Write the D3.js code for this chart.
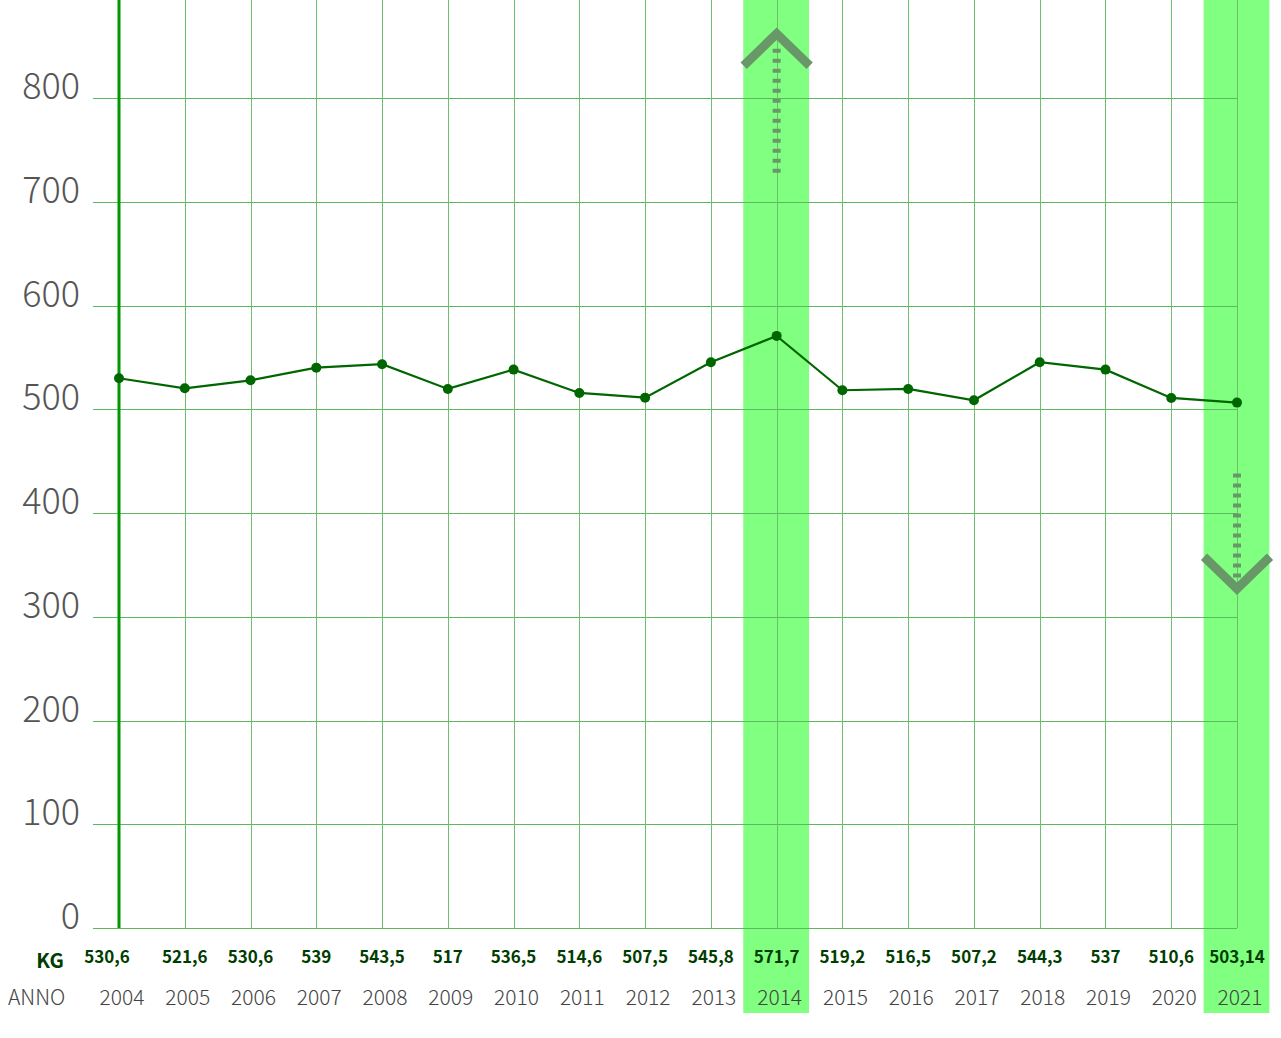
<!DOCTYPE html>
<html><head><meta charset="utf-8">
<script src="https://cdn.jsdelivr.net/npm/d3@7"></script>
<style>
html,body{margin:0;padding:0;background:#fff;}
svg{display:block;font-family:"Noto Sans CJK JP","Source Sans Pro","Open Sans",sans-serif;}
.light{font-family:"Noto Sans CJK JP Light","Noto Sans CJK JP DemiLight","Noto Sans CJK JP","Open Sans",sans-serif;}
</style></head>
<body><svg id="c" width="1281" height="1038"></svg>
<script>
const years = [2004,2005,2006,2007,2008,2009,2010,2011,2012,2013,2014,2015,2016,2017,2018,2019,2020,2021];
// values as drawn by the line
const plotted = [529.9,520.2,527.9,540.1,543.4,519.6,538.2,515.7,511.2,545.3,570.7,518.3,519.6,508.7,545.3,538.2,510.9,506.4];
// values as printed in the KG row
const valueLabels = ["530,6","521,6","530,6","539","543,5","517","536,5","514,6","507,5","545,8","571,7","519,2","516,5","507,2","544,3","537","510,6","503,14"];
const yTicks = [0,100,200,300,400,500,600,700,800];
const highlightYears = [2014,2021];
// arrow annotations
const arrowYears = [2014, 2021];
const arrowDotFrom = [728, 438];
const arrowDotTo = [848, 335];
const arrowApex = [862, 327];
const arrowDir = ["up","down"];

const svg = d3.select("#c");
const x = d3.scalePoint().domain(years).range([119,1237]);
const y = d3.scaleLinear().domain([0,800]).range([928,98]);
const step = x.step();
const yTop = y.invert(0);

// highlight bands
svg.selectAll("rect.band").data(highlightYears).join("rect")
  .attr("x", d => x(d) - step/2 - 0.5).attr("y", 0)
  .attr("width", step).attr("height", 1013)
  .attr("fill", "#80ff80");

// horizontal gridlines
svg.selectAll("line.h").data(yTicks).join("line")
  .attr("x1", 93).attr("x2", x(2021))
  .attr("y1", d => Math.round(y(d)) + 0.5).attr("y2", d => Math.round(y(d)) + 0.5)
  .attr("stroke", "#5cb85c").attr("stroke-width", 1);

// vertical gridlines
svg.selectAll("line.v").data(years.slice(1)).join("line")
  .attr("x1", d => Math.round(x(d)) + 0.5).attr("x2", d => Math.round(x(d)) + 0.5)
  .attr("y1", y(yTop)).attr("y2", y(0))
  .attr("stroke", "#6cbf6c").attr("stroke-width", 1);

// axis line
svg.append("line").attr("x1", x(2004)).attr("x2", x(2004))
  .attr("y1", y(yTop)).attr("y2", y(0))
  .attr("stroke", "#009900").attr("stroke-width", 3);

// y tick labels
svg.selectAll("text.yt").data(yTicks).join("text")
  .attr("class", "light")
  .attr("x", 80).attr("y", d => y(d) + 1)
  .attr("text-anchor", "end").attr("font-size", 36).attr("font-weight", 300)
  .attr("fill", "#555").text(d => d);

// arrows
const arrowColor = "#689868";
arrowYears.forEach((yr, i) => {
  const cx = x(yr);
  svg.append("line").attr("x1", cx).attr("x2", cx)
    .attr("y1", y(arrowDotFrom[i])).attr("y2", y(arrowDotTo[i]))
    .attr("stroke", arrowColor).attr("stroke-width", 8)
    .attr("stroke-dasharray", "4,6");
  const ay = y(arrowApex[i]);
  const dy = arrowDir[i] === "up" ? 32 : -32;
  svg.append("path")
    .attr("d", `M${cx - 33},${ay + dy}L${cx},${ay}L${cx + 33},${ay + dy}`)
    .attr("fill", "none").attr("stroke", arrowColor).attr("stroke-width", 9);
});

// line
svg.append("path").datum(plotted.map((v, i) => [years[i], v]))
  .attr("d", d3.line().x(d => x(d[0])).y(d => y(d[1])))
  .attr("fill", "none").attr("stroke", "#006600").attr("stroke-width", 2.2);
svg.selectAll("circle.pt").data(plotted).join("circle")
  .attr("cx", (d, i) => x(years[i])).attr("cy", d => y(d))
  .attr("r", 5).attr("fill", "#006600");

// bottom labels
svg.append("text").attr("x", 50).attr("y", 968).attr("text-anchor", "middle")
  .attr("font-size", 20).attr("font-weight", 700).attr("fill", "#003d00").text("KG");
svg.append("text").attr("class", "light").attr("x", 8).attr("y", 1005)
  .attr("font-size", 21).attr("font-weight", 300).attr("fill", "#444").text("ANNO");
svg.selectAll("text.val").data(valueLabels).join("text")
  .attr("x", (d, i) => x(years[i]) + (i === 0 ? -12 : 0)).attr("y", 963)
  .attr("text-anchor", "middle").attr("font-size", 17).attr("font-weight", 700)
  .attr("fill", "#003d00").text(d => d);
svg.selectAll("text.yr").data(years).join("text")
  .attr("class", "light")
  .attr("x", d => x(d) + 3).attr("y", 1005)
  .attr("text-anchor", "middle").attr("font-size", 21).attr("font-weight", 300)
  .attr("fill", "#444").text(d => d);
</script></body></html>
